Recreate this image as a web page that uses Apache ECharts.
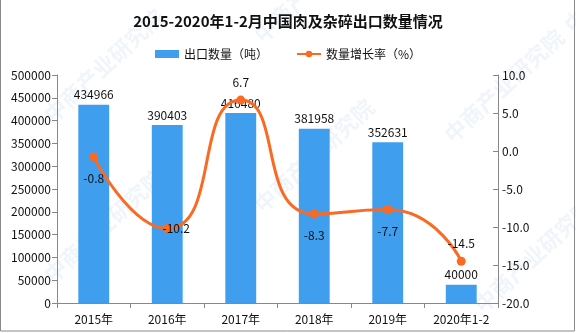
<!DOCTYPE html>
<html>
<head>
<meta charset="utf-8">
<script src="https://cdn.jsdelivr.net/npm/echarts@6/dist/echarts.min.js"></script>
<style>
  html, body { margin: 0; padding: 0; background: #fff; }
  #chart { width: 576px; height: 333px; }
</style>
</head>
<body>
<div id="chart"></div>
<script>
// Export volume and year-on-year growth, Jan-Feb of each year
const categories = ['2015年', '2016年', '2017年', '2018年', '2019年', '2020年1-2'];
const exportVolume = [434966, 390403, 416480, 381958, 352631, 40000];
const growthRate = [-0.8, -10.2, 6.7, -8.3, -7.7, -14.5];
const growthLabelPos = ['bottom', 'inside', 'top', 'bottom', 'bottom', 'top'];

const FONT = '"Noto Sans CJK SC", "DejaVu Sans", sans-serif';
const chart = echarts.init(document.getElementById('chart'));

const watermarks = [];
[[40, 110], [40, 270], [250, 30], [250, 200], [440, 130], [470, 300], [560, 20]].forEach(function (p) {
  watermarks.push({
    type: 'text', x: p[0], y: p[1], rotation: Math.PI / 4.2, silent: true, z: 0,
    style: { text: '中商产业研究院', fill: 'rgba(120,170,220,0.12)', font: 'bold 22px ' + FONT }
  });
});

chart.setOption({
  backgroundColor: '#fff',
  animation: false,
  title: {
    text: '2015-2020年1-2月中国肉及杂碎出口数量情况',
    left: 'center', top: 9,
    textStyle: { fontFamily: FONT, fontSize: 15, fontWeight: 'bold', color: '#111' }
  },
  legend: {
    top: 43, left: 'center', itemGap: 28, itemWidth: 24, itemHeight: 8,
    textStyle: { fontFamily: FONT, fontSize: 12, color: '#111' },
    data: [
      { name: '出口数量（吨）', icon: 'rect' },
      { name: '数量增长率（%）' }
    ]
  },
  grid: { left: 57, right: 78, top: 75, bottom: 30 },
  graphic: watermarks.concat([{
    type: 'rect', shape: { x: 0.5, y: -1, width: 574, height: 332 }, silent: true,
    style: { fill: 'none', stroke: '#8a8a8a', lineWidth: 1 }
  }]),
  xAxis: {
    type: 'category', data: categories,
    axisLine: { lineStyle: { color: '#888' } },
    axisTick: { show: true, lineStyle: { color: '#888' } },
    axisLabel: { fontFamily: FONT, fontSize: 12, color: '#111', margin: 10 }
  },
  yAxis: [{
    type: 'value', min: 0, max: 500000, interval: 50000,
    axisLine: { show: true, lineStyle: { color: '#888' } },
    axisTick: { show: true, lineStyle: { color: '#888' } },
    splitLine: { show: false },
    axisLabel: { fontFamily: FONT, fontSize: 12, color: '#111', margin: 6,
      formatter: function (v) { return String(v); } }
  }, {
    type: 'value', min: -20, max: 10, interval: 5,
    axisLine: { show: true, lineStyle: { color: '#888' } },
    axisTick: { show: true, inside: true, lineStyle: { color: '#888' } },
    splitLine: { show: false },
    axisLabel: { fontFamily: FONT, fontSize: 12, color: '#111', margin: 4,
      formatter: function (v) { return v.toFixed(1); } }
  }],
  series: [{
    name: '出口数量（吨）', type: 'bar', data: exportVolume, barWidth: '42%',
    itemStyle: { color: '#3F9EEE' },
    label: { show: true, position: 'top', distance: 4, fontFamily: FONT, fontSize: 12, color: '#111' },
    z: 2
  }, {
    name: '数量增长率（%）', type: 'line', yAxisIndex: 1, smooth: 0.6,
    data: growthRate.map(function (v, i) {
      const pos = growthLabelPos[i];
      const lbl = { position: pos };
      if (pos === 'inside') lbl.offset = [9, 0];
      if (pos === 'top') lbl.distance = 7;
      return { value: v, label: lbl };
    }),
    symbol: 'circle', symbolSize: 9,
    lineStyle: { color: '#FB6A22', width: 3 },
    itemStyle: { color: '#FB6A22' },
    label: { show: true, distance: 11, fontFamily: FONT, fontSize: 12, color: '#111',
      formatter: function (p) { return p.value.toFixed(1); } },
    z: 3
  }]
});
</script>
</body>
</html>
